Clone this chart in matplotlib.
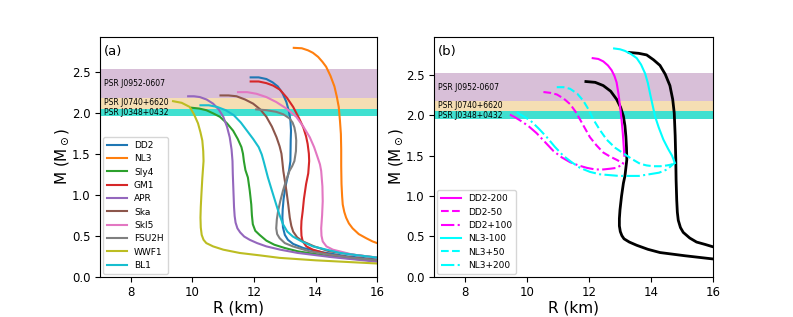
import matplotlib
matplotlib.use("Agg")
import matplotlib.pyplot as plt

# ---------------- Panel (a) data: R (km), M (Msun) ----------------
DD2_R = [11.89, 12.15, 12.40, 12.60, 12.77, 12.92, 13.05, 13.13, 13.18, 13.20, 13.19, 13.18, 13.14, 13.08, 13.02, 12.96, 12.93, 12.92, 12.94, 13.00, 13.10, 13.27, 13.60, 14.20, 15.00, 16.00]
DD2_M = [2.43, 2.43, 2.41, 2.37, 2.32, 2.24, 2.13, 2.02, 1.91, 1.78, 1.66, 1.41, 1.30, 1.20, 1.10, 0.95, 0.82, 0.72, 0.60, 0.51, 0.45, 0.40, 0.35, 0.30, 0.25, 0.21]

NL3_R = [13.29, 13.55, 13.75, 13.91, 14.08, 14.22, 14.34, 14.48, 14.61, 14.69, 14.75, 14.79, 14.82, 14.83, 14.83, 14.84, 14.86, 14.88, 14.93, 14.99, 15.08, 15.20, 15.40, 15.64, 15.85, 16.07]
NL3_M = [2.79, 2.785, 2.76, 2.73, 2.68, 2.62, 2.56, 2.45, 2.32, 2.19, 2.07, 1.90, 1.74, 1.55, 1.35, 1.13, 0.98, 0.88, 0.79, 0.72, 0.65, 0.59, 0.52, 0.47, 0.43, 0.40]

SLY4_R = [9.97, 10.22, 10.45, 10.68, 10.89, 11.12, 11.32, 11.47, 11.59, 11.64, 11.67, 11.72, 11.80, 11.86, 11.91, 11.93, 11.96, 12.04, 12.18, 12.40, 12.66, 13.00, 13.42, 14.45, 15.20, 16.07]
SLY4_M = [2.06, 2.05, 2.03, 1.99, 1.95, 1.87, 1.78, 1.68, 1.58, 1.50, 1.41, 1.30, 1.21, 1.05, 0.88, 0.75, 0.64, 0.56, 0.51, 0.44, 0.39, 0.35, 0.31, 0.25, 0.22, 0.19]

GM1_R = [11.89, 12.15, 12.40, 12.62, 12.84, 13.07, 13.27, 13.45, 13.60, 13.69, 13.74, 13.78, 13.79, 13.76, 13.69, 13.62, 13.58, 13.54, 13.53, 13.54, 13.58, 13.70, 13.91, 14.45, 15.20, 16.07]
GM1_M = [2.38, 2.38, 2.36, 2.33, 2.28, 2.18, 2.07, 1.94, 1.82, 1.71, 1.62, 1.50, 1.41, 1.26, 1.13, 0.95, 0.80, 0.68, 0.59, 0.50, 0.43, 0.37, 0.33, 0.27, 0.23, 0.20]

APR_R = [9.86, 10.05, 10.24, 10.46, 10.67, 10.85, 11.00, 11.12, 11.21, 11.27, 11.30, 11.31, 11.33, 11.35, 11.37, 11.40, 11.46, 11.55, 11.68, 11.86, 12.10, 12.40, 12.85, 13.42, 14.50, 16.07]
APR_M = [2.20, 2.20, 2.19, 2.16, 2.11, 2.04, 1.95, 1.83, 1.70, 1.55, 1.41, 1.25, 1.05, 0.85, 0.74, 0.66, 0.59, 0.54, 0.49, 0.45, 0.41, 0.37, 0.33, 0.29, 0.24, 0.18]

SKA_R = [10.91, 11.17, 11.43, 11.71, 11.97, 12.20, 12.40, 12.58, 12.73, 12.83, 12.89, 12.92, 12.95, 13.00, 13.05, 13.11, 13.16, 13.21, 13.27, 13.40, 13.59, 13.95, 14.45, 15.20, 16.07]
SKA_M = [2.21, 2.21, 2.20, 2.16, 2.11, 2.04, 1.95, 1.83, 1.70, 1.59, 1.50, 1.40, 1.29, 1.17, 1.05, 0.88, 0.72, 0.62, 0.55, 0.48, 0.43, 0.37, 0.31, 0.27, 0.23]

SKI5_R = [11.48, 11.78, 12.08, 12.40, 12.72, 13.05, 13.37, 13.60, 13.81, 13.95, 14.06, 14.14, 14.18, 14.22, 14.23, 14.21, 14.18, 14.19, 14.23, 14.35, 14.56, 15.20, 16.07]
SKI5_M = [2.25, 2.25, 2.23, 2.19, 2.13, 2.05, 1.95, 1.83, 1.70, 1.58, 1.46, 1.37, 1.29, 1.10, 0.92, 0.75, 0.59, 0.50, 0.43, 0.37, 0.33, 0.27, 0.23]

FSU2H_R = [12.07, 12.40, 12.72, 12.95, 13.15, 13.25, 13.31, 13.35, 13.37, 13.36, 13.31, 13.24, 13.15, 13.03, 12.94, 12.85, 12.78, 12.74, 12.72, 12.75, 12.83, 13.00, 13.26, 13.80, 14.45, 15.20, 16.07]
FSU2H_M = [2.04, 2.03, 2.01, 1.98, 1.93, 1.88, 1.82, 1.74, 1.66, 1.53, 1.41, 1.35, 1.29, 1.16, 1.05, 0.92, 0.80, 0.70, 0.59, 0.52, 0.47, 0.41, 0.37, 0.31, 0.27, 0.23, 0.20]

WWF1_R = [9.37, 9.65, 9.91, 10.05, 10.18, 10.26, 10.32, 10.35, 10.36, 10.32, 10.29, 10.27, 10.26, 10.27, 10.30, 10.36, 10.45, 10.67, 11.00, 11.53, 12.20, 12.83, 14.00, 16.07]
WWF1_M = [2.14, 2.12, 2.07, 1.98, 1.87, 1.76, 1.66, 1.53, 1.41, 1.20, 1.00, 0.85, 0.72, 0.60, 0.51, 0.45, 0.41, 0.37, 0.33, 0.29, 0.26, 0.23, 0.20, 0.16]

BL1_R = [10.26, 10.53, 10.80, 11.08, 11.34, 11.57, 11.77, 11.97, 12.15, 12.25, 12.31, 12.38, 12.45, 12.58, 12.72, 12.83, 12.94, 13.08, 13.26, 13.55, 13.91, 14.35, 14.80, 15.40, 16.07]
BL1_M = [2.09, 2.09, 2.07, 2.03, 1.97, 1.88, 1.78, 1.68, 1.58, 1.49, 1.41, 1.31, 1.21, 1.05, 0.88, 0.75, 0.64, 0.55, 0.49, 0.43, 0.37, 0.33, 0.29, 0.26, 0.23]

left_labels = ["DD2", "NL3", "Sly4", "GM1", "APR", "Ska", "SkI5", "FSU2H", "WWF1", "BL1"]
left_R = [DD2_R, NL3_R, SLY4_R, GM1_R, APR_R, SKA_R, SKI5_R, FSU2H_R, WWF1_R, BL1_R]
left_M = [DD2_M, NL3_M, SLY4_M, GM1_M, APR_M, SKA_M, SKI5_M, FSU2H_M, WWF1_M, BL1_M]
left_colors = ["#1f77b4", "#ff7f0e", "#2ca02c", "#d62728", "#9467bd",
               "#8c564b", "#e377c2", "#7f7f7f", "#bcbd22", "#17becf"]

# ---------------- Panel (b) data ----------------
B_DD2_R = [11.90, 12.20, 12.46, 12.70, 12.89, 13.02, 13.11, 13.16, 13.19, 13.21, 13.22, 13.19, 13.16, 13.11, 13.05, 13.00, 12.98, 12.98, 13.01, 13.06, 13.13, 13.30, 13.54, 13.90, 14.29, 15.10, 16.01]
B_DD2_M = [2.42, 2.41, 2.37, 2.30, 2.20, 2.10, 1.99, 1.87, 1.74, 1.60, 1.45, 1.35, 1.25, 1.16, 1.00, 0.83, 0.72, 0.63, 0.56, 0.51, 0.47, 0.43, 0.39, 0.34, 0.30, 0.26, 0.22]

B_NL3_R = [13.30, 13.60, 13.86, 14.08, 14.29, 14.46, 14.61, 14.70, 14.75, 14.78, 14.80, 14.81, 14.83, 14.85, 14.88, 14.95, 15.04, 15.25, 15.47, 15.75, 16.01]
B_NL3_M = [2.78, 2.77, 2.75, 2.69, 2.62, 2.51, 2.37, 2.20, 2.03, 1.75, 1.45, 1.20, 0.95, 0.80, 0.70, 0.61, 0.55, 0.48, 0.43, 0.40, 0.37]

DD2m200_R = [12.12, 12.30, 12.46, 12.61, 12.73, 12.82, 12.89, 12.95, 13.00, 13.05, 13.09, 13.12, 13.14]
DD2m200_M = [2.71, 2.70, 2.67, 2.62, 2.56, 2.49, 2.41, 2.27, 2.12, 1.95, 1.78, 1.62, 1.50]

DD2m50_R = [10.53, 10.75, 10.96, 11.18, 11.39, 11.56, 11.71, 11.87, 12.03, 12.24, 12.46, 12.68, 12.89, 13.13]
DD2m50_M = [2.29, 2.28, 2.26, 2.21, 2.14, 2.05, 1.95, 1.84, 1.73, 1.63, 1.54, 1.49, 1.45, 1.40]

DD2p100_R = [9.45, 9.60, 9.77, 10.04, 10.31, 10.58, 10.85, 11.12, 11.39, 11.66, 11.93, 12.20, 12.46, 12.70, 12.89, 13.11]
DD2p100_M = [2.01, 1.98, 1.94, 1.87, 1.78, 1.67, 1.56, 1.48, 1.42, 1.38, 1.35, 1.33, 1.33, 1.34, 1.35, 1.40]

NL3m100_R = [12.81, 13.00, 13.16, 13.36, 13.54, 13.68, 13.81, 13.90, 13.97, 14.05, 14.13, 14.25, 14.40, 14.56, 14.68, 14.77]
NL3m100_M = [2.83, 2.82, 2.80, 2.76, 2.71, 2.63, 2.52, 2.40, 2.27, 2.13, 1.99, 1.85, 1.70, 1.58, 1.50, 1.41]

NL3p50_R = [10.96, 11.18, 11.39, 11.62, 11.82, 11.99, 12.14, 12.35, 12.57, 12.84, 13.11, 13.38, 13.65, 13.86, 14.08, 14.30, 14.51, 14.65, 14.77]
NL3p50_M = [2.35, 2.35, 2.33, 2.27, 2.18, 2.07, 1.95, 1.82, 1.70, 1.60, 1.53, 1.46, 1.40, 1.38, 1.37, 1.37, 1.38, 1.39, 1.41]

NL3p200_R = [9.67, 9.88, 10.10, 10.37, 10.64, 10.90, 11.17, 11.44, 11.71, 12.03, 12.35, 12.66, 12.97, 13.29, 13.61, 13.94, 14.26, 14.52, 14.76]
NL3p200_M = [2.04, 1.99, 1.94, 1.84, 1.73, 1.61, 1.50, 1.42, 1.35, 1.30, 1.27, 1.26, 1.25, 1.25, 1.25, 1.27, 1.29, 1.33, 1.41]

right_labels = ["DD2-200", "DD2-50", "DD2+100", "NL3-100", "NL3+50", "NL3+200"]
right_R = [DD2m200_R, DD2m50_R, DD2p100_R, NL3m100_R, NL3p50_R, NL3p200_R]
right_M = [DD2m200_M, DD2m50_M, DD2p100_M, NL3m100_M, NL3p50_M, NL3p200_M]
right_colors = ["magenta", "magenta", "magenta", "cyan", "cyan", "cyan"]
right_styles = ["-", "--", "-.", "-", "--", "-."]

# pulsar bands (M ranges) and labels
band_lo = [2.18, 2.05, 1.96]
band_hi = [2.53, 2.18, 2.05]
band_colors = ["#d8bfd8", "#f5deb3", "#40e0d0"]
band_names = ["PSR J0952-0607", "PSR J0740+6620", "PSR J0348+0432"]
band_text_y = [2.35, 2.12, 2.005]

fig = plt.figure(figsize=(7.93, 3.17), dpi=100)
axa = fig.add_axes([0.1262, 0.127, 0.3495, 0.757])
axb = fig.add_axes([0.5473, 0.127, 0.3518, 0.757])

def draw_bands(ax):
    for lo, hi, c, name, ty in zip(band_lo, band_hi, band_colors, band_names, band_text_y):
        ax.axhspan(lo, hi, color=c, lw=0, zorder=0)
        ax.text(7.12, ty, name, fontsize=5.5, va="center", ha="left", zorder=1)

draw_bands(axa)
for R, M, lab, c in zip(left_R, left_M, left_labels, left_colors):
    axa.plot(R, M, color=c, lw=1.5, label=lab)
axa.set_xlim(7, 16)
axa.set_ylim(0, 2.925)
axa.legend(loc="lower left", fontsize=6.5, handlelength=2.2, labelspacing=0.48,
           borderpad=0.45, handletextpad=0.8, borderaxespad=0.3)
axa.text(7.13, 2.75, "(a)", fontsize=9.5, va="center")

draw_bands(axb)
axb.plot(B_DD2_R, B_DD2_M, color="black", lw=2)
axb.plot(B_NL3_R, B_NL3_M, color="black", lw=2)
for R, M, lab, c, ls in zip(right_R, right_M, right_labels, right_colors, right_styles):
    axb.plot(R, M, color=c, ls=ls, lw=1.5, label=lab)
axb.set_xlim(7, 16)
axb.set_ylim(0, 2.975)
axb.legend(loc="lower left", fontsize=6.5, handlelength=2.2, labelspacing=0.48,
           borderpad=0.45, handletextpad=0.8, borderaxespad=0.3)
axb.text(7.13, 2.79, "(b)", fontsize=9.5, va="center")

for ax in (axa, axb):
    ax.set_xticks([8, 10, 12, 14, 16])
    ax.set_yticks([0.0, 0.5, 1.0, 1.5, 2.0, 2.5])
    ax.tick_params(labelsize=8.5)
    ax.set_xlabel("R (km)", fontsize=11, labelpad=1)
    ax.set_ylabel(r"M (M$_\odot$)", fontsize=11, labelpad=0.5)

fig.savefig("out.png", dpi=100)
